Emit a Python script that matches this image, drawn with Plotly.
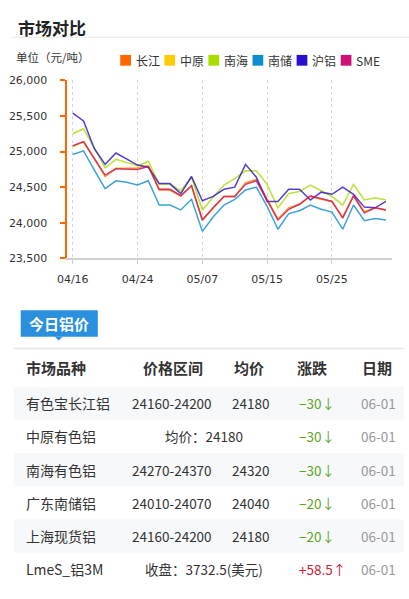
import plotly.graph_objects as go

# ---------------- data ----------------
dates = ["04/16", "04/17", "04/18", "04/19", "04/20", "04/23", "04/24", "04/25", "04/26", "04/27",
         "05/02", "05/03", "05/07", "05/08", "05/09", "05/10", "05/11", "05/14", "05/15", "05/16",
         "05/17", "05/18", "05/21", "05/22", "05/25", "05/28", "05/29", "05/30", "05/31", "06/01"]

changjiang = [25080, 25140, 24900, 24650, 24760, 24770, 24770, 24800, 24460, 24460,
              24380, 24520, 24040, 24210, 24370, 24370, 24560, 24610, 24340, 24050,
              24210, 24260, 24370, 24330, 24300, 24070, 24380, 24150, 24210, 24180]
zhongyuan = [25070, 25130, 24900, 24660, 24770, 24770, 24760, 24800, 24470, 24470,
             24380, 24520, 24040, 24200, 24370, 24370, 24550, 24600, 24330, 24050,
             24200, 24260, 24370, 24330, 24300, 24070, 24380, 24160, 24210, 24180]
nanhai = [25250, 25320, 25050, 24770, 24890, 24840, 24800, 24860, 24540, 24540,
          24450, 24640, 24180, 24360, 24530, 24620, 24730, 24730, 24540, 24210,
          24410, 24440, 24530, 24450, 24370, 24250, 24540, 24320, 24350, 24320]
nanchu = [24960, 25010, 24740, 24480, 24590, 24570, 24530, 24590, 24250, 24250,
          24180, 24330, 23880, 24080, 24250, 24330, 24460, 24500, 24230, 23910,
          24130, 24170, 24250, 24190, 24150, 23910, 24250, 24030, 24060, 24040]
hulv = [25540, 25430, 25040, 24820, 24980, 24890, 24810, 24780, 24550, 24550,
        24410, 24650, 24310, 24370, 24470, 24500, 24820, 24640, 24300, 24300,
        24470, 24470, 24320, 24430, 24400, 24500, 24400, 24220, 24210, 24300]
sme = [25080, 25140, 24900, 24670, 24760, 24760, 24750, 24790, 24470, 24470,
       24380, 24520, 24040, 24210, 24370, 24370, 24540, 24590, 24320, 24040,
       24190, 24260, 24380, 24340, 24300, 24070, 24380, 24140, 24210, 24180]

series_names = ["长江", "中原", "南海", "南储", "沪铝", "SME"]
series_values = [changjiang, zhongyuan, nanhai, nanchu, hulv, sme]
series_colors = ["#ff6600", "#ffcc00", "#aadd00", "#0b8dd0", "#2a0fcc", "#cc1177"]

x_tick_labels = ["04/16", "04/24", "05/07", "05/15", "05/25"]
y_tick_values = [23500, 24000, 24500, 25000, 25500, 26000]

table_header = ["市场品种", "价格区间", "均价", "涨跌", "日期"]
markets = ["有色宝长江铝", "中原有色铝", "南海有色铝", "广东南储铝", "上海现货铝", "LmeS_铝3M"]
price_ranges = ["24160-24200", "", "24270-24370", "24010-24070", "24160-24200", ""]
avg_prices = ["24180", "均价：24180", "24320", "24040", "24180", "收盘：3732.5(美元)"]
changes = ["-30", "-30", "-30", "-20", "-20", "+58.5"]
row_dates = ["06-01", "06-01", "06-01", "06-01", "06-01", "06-01"]

# ---------------- figure ----------------
W, H = 409, 599
CJK = "Noto Sans CJK SC"


def px(x):
    return x / W


def py(y):
    return 1 - y / H


fig = go.Figure()
for name, vals, col in zip(series_names, series_values, series_colors):
    fig.add_trace(go.Scatter(x=dates, y=vals, name=name, mode="lines",
                             line=dict(color=col, width=1.5), opacity=0.8,
                             showlegend=False, hoverinfo="x+y+name"))

shapes = []
annotations = []

# title
annotations.append(dict(x=px(6), y=py(22), xref="paper", yref="paper", text="<b>市场对比</b>",
                        showarrow=False, xanchor="left", yanchor="middle",
                        font=dict(family=CJK, size=17, color="#222")))
shapes.append(dict(type="line", xref="paper", yref="paper", x0=0, x1=1, y0=py(32), y1=py(32),
                   line=dict(color="#ececec", width=1)))

# unit label
annotations.append(dict(x=px(4), y=py(52.5), xref="paper", yref="paper", text="单位（元/吨）",
                        showarrow=False, xanchor="left", yanchor="middle",
                        font=dict(family=CJK, size=11.5, color="#333")))

# legend (manual squares)
leg_x0 = 113
leg_step = 45.2
for i, (name, col) in enumerate(zip(series_names, series_colors)):
    x0 = leg_x0 + i * leg_step
    shapes.append(dict(type="rect", xref="paper", yref="paper", x0=px(x0), x1=px(x0 + 11),
                       y0=py(61), y1=py(50), fillcolor=col, line=dict(width=0)))
    annotations.append(dict(x=px(x0 + 14), y=py(55.5), xref="paper", yref="paper", text=name,
                            showarrow=False, xanchor="left", yanchor="middle",
                            font=dict(family=CJK, size=12, color="#333")))

# "今日铝价" tab
shapes.append(dict(type="rect", xref="paper", yref="paper", x0=px(11), x1=px(90),
                   y0=py(338), y1=py(311), fillcolor="#2a8fdc", line=dict(width=0)))
shapes.append(dict(type="path", xref="paper", yref="paper",
                   path=f"M {px(46)} {py(338)} L {px(54)} {py(338)} L {px(50)} {py(342)} Z",
                   fillcolor="#2a8fdc", line=dict(width=0)))
annotations.append(dict(x=px(50.5), y=py(324.5), xref="paper", yref="paper", text="<b>今日铝价</b>",
                        showarrow=False, xanchor="center", yanchor="middle",
                        font=dict(family=CJK, size=15, color="#ffffff")))
shapes.append(dict(type="line", xref="paper", yref="paper", x0=px(4), x1=px(404), y0=py(350), y1=py(350),
                   line=dict(color="#e3e8ee", width=1.5)))

# table header
header_x = [14, 167, 245, 310, 376]
header_anchor = ["left", "center", "center", "center", "center"]
for txt, hx, anc in zip(table_header, header_x, header_anchor):
    annotations.append(dict(x=px(hx), y=py(370), xref="paper", yref="paper", text=f"<b>{txt}</b>",
                            showarrow=False, xanchor=anc, yanchor="middle",
                            font=dict(family=CJK, size=15, color="#333")))

# table rows
row_top = 389
row_h = 34
for r in range(len(markets)):
    top = row_top + r * row_h
    cy = top + row_h / 2
    if r % 2 == 0:
        shapes.append(dict(type="rect", xref="paper", yref="paper", x0=px(4), x1=px(404),
                           y0=py(top + row_h), y1=py(top), fillcolor="#f7f8fa",
                           line=dict(width=0), layer="below"))
    annotations.append(dict(x=px(14), y=py(cy), xref="paper", yref="paper", text=markets[r],
                            showarrow=False, xanchor="left", yanchor="middle",
                            font=dict(family=CJK, size=14, color="#333")))
    if price_ranges[r]:
        annotations.append(dict(x=px(166), y=py(cy), xref="paper", yref="paper", text=price_ranges[r],
                                showarrow=False, xanchor="center", yanchor="middle",
                                font=dict(family=CJK, size=13.5, color="#333")))
        annotations.append(dict(x=px(247), y=py(cy), xref="paper", yref="paper", text=avg_prices[r],
                                showarrow=False, xanchor="center", yanchor="middle",
                                font=dict(family=CJK, size=13.5, color="#333")))
    else:
        annotations.append(dict(x=px(199), y=py(cy), xref="paper", yref="paper", text=avg_prices[r],
                                showarrow=False, xanchor="center", yanchor="middle",
                                font=dict(family=CJK, size=13.5, color="#333")))
    up = changes[r].startswith("+")
    ccol = "#cc2233" if up else "#5ea51c"
    arrow = "↑" if up else "↓"
    annotations.append(dict(x=px(294), y=py(cy), xref="paper", yref="paper",
                            text=changes[r].replace("-", "−") + arrow,
                            showarrow=False, xanchor="left", yanchor="middle",
                            font=dict(family=CJK, size=13.5, color=ccol)))
    annotations.append(dict(x=px(378), y=py(cy), xref="paper", yref="paper", text=row_dates[r],
                            showarrow=False, xanchor="center", yanchor="middle",
                            font=dict(family=CJK, size=13.5, color="#999")))

fig.update_layout(
    width=W, height=H, autosize=False,
    margin=dict(l=0, r=0, t=0, b=0),
    paper_bgcolor="white", plot_bgcolor="white",
    shapes=shapes, annotations=annotations,
    xaxis=dict(domain=[px(58), px(392)], type="category", range=[-0.57, 29.6],
               tickmode="array", tickvals=x_tick_labels, ticktext=x_tick_labels,
               showgrid=True, griddash="3px,3px", gridcolor="#d6d6d6", gridwidth=1,
               showline=True, linecolor="#d0d0d0", linewidth=1.5,
               ticks="outside", tickcolor="#cccccc", ticklen=4,
               ticklabelstandoff=6,
               tickfont=dict(family="DejaVu Sans", size=11, color="#333"),
               zeroline=False, fixedrange=True),
    yaxis=dict(domain=[py(258), py(76)], range=[23500, 26000],
               tickmode="array", tickvals=y_tick_values, tickformat=",",
               showgrid=False, zeroline=False,
               showline=True, linecolor="#ff6600", linewidth=2,
               ticks="outside", tickcolor="#ff6600", ticklen=5, tickwidth=1.5,
               ticklabelstandoff=10,
               tickfont=dict(family="DejaVu Sans", size=11, color="#333"), fixedrange=True),
)

fig.write_html("out.html", config={"displayModeBar": False},
               post_script="document.body.style.margin='0';")
